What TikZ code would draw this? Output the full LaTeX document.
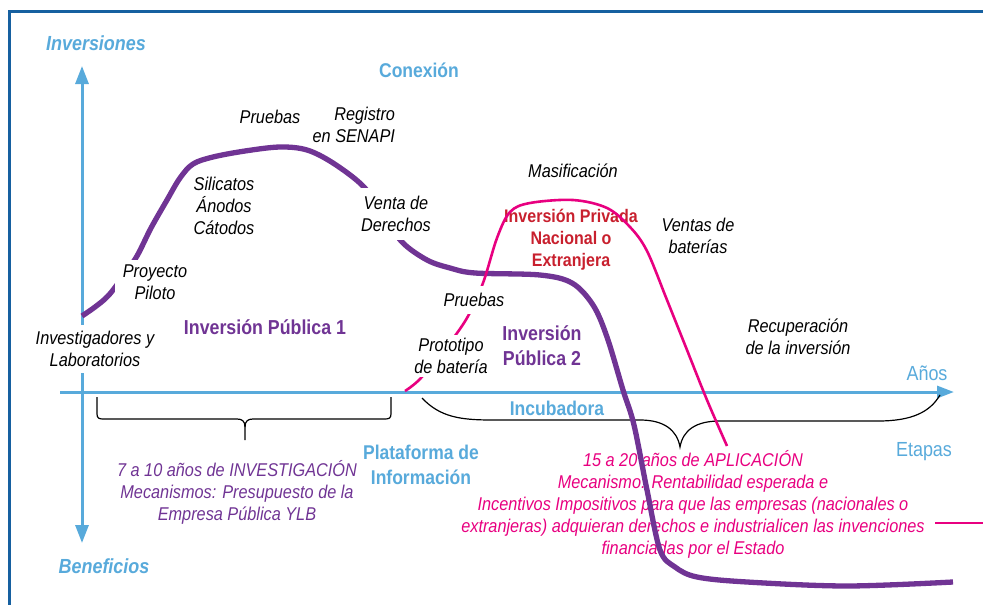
\documentclass[tikz,border=0pt]{standalone}
\usepackage{fontspec}
\setmainfont{Liberation Sans}[FakeStretch=0.88]
\usetikzlibrary{arrows.meta}
\definecolor{lblue}{RGB}{88,170,219}
\definecolor{frameblue}{RGB}{22,96,160}
\definecolor{ppurple}{RGB}{112,52,148}
\definecolor{pmag}{RGB}{232,0,128}
\definecolor{pred}{RGB}{200,32,46}
\begin{document}
\begin{tikzpicture}[x=1pt,y=-1pt,
  every node/.style={inner sep=0pt, outer sep=0pt},
  itx/.style={font=\fontsize{18.5}{22}\selectfont\itshape, align=center},
  bluebold/.style={font=\fontsize{19.9}{25}\selectfont\bfseries, text=lblue, align=center},
  blueital/.style={font=\fontsize{20.4}{22}\selectfont\bfseries\itshape, text=lblue},
  bluereg/.style={font=\fontsize{20.4}{22}\selectfont, text=lblue},
  purbold/.style={font=\fontsize{20.2}{25}\selectfont\bfseries, text=ppurple, align=center},
  redbold/.style={font=\fontsize{18.2}{22}\selectfont\bfseries, text=pred, align=center},
  cover/.style={fill=white},
  axisline/.style={lblue, line width=3pt},
  bracestyle/.style={black, line width=1.2pt},
  invcurve/.style={ppurple, line width=5.3pt},
  privcurve/.style={pmag, line width=2.6pt}]
\useasboundingbox (0,0) rectangle (983,605);

% frame
\coordinate (fbl) at (9.5,605);
\coordinate (ftl) at (9.5,11);
\coordinate (ftr) at (983,11);
\draw[frameblue, line width=3pt] (fbl) -- (ftl) -- (ftr);

% axes
\coordinate (vbot) at (82,543);
\coordinate (vtop) at (82,66);
\coordinate (hleft) at (60,392);
\coordinate (hright) at (954,392);
\draw[axisline, {Triangle[length=18pt,width=13pt]}-{Triangle[length=18pt,width=13pt]}] (vbot) -- (vtop);
\draw[axisline, -{Triangle[length=17pt,width=12pt]}] (hleft) -- (hright);

% braces
\coordinate (b1l) at (97,397);
\coordinate (b1tip) at (245,440);
\coordinate (b1r) at (391,397);
\draw[bracestyle] (b1l) -- (97,414) .. controls (97,418) and (99,419) .. (103,419) -- (237,419)
  .. controls (242,419) and (245,421) .. (245,427) -- (b1tip);
\draw[bracestyle] (b1r) -- (391,414) .. controls (391,418) and (389,419) .. (385,419) -- (253,419)
  .. controls (248,419) and (245,421) .. (245,427);
\coordinate (b2l) at (422,398);
\coordinate (b2tip) at (680,447);
\coordinate (b2r) at (940,395);
\draw[bracestyle] (b2l) .. controls (440,417) and (460,420) .. (492,420) -- (640,420)
  .. controls (664,420) and (677,430) .. (b2tip)
  .. controls (683,430) and (696,421) .. (720,421) -- (878,421)
  .. controls (912,421) and (930,412) .. (b2r);

% labels
\node[blueital] (inv) at (96,43) {Inversiones};
\node[blueital] (ben) at (104,566) {Beneficios};
\node[bluebold] (con) at (419,70) {Conexión};
\node[bluereg] (anos) at (927,373) {Años};
\node[bluereg] (etapas) at (924,452) {Etapas};
\node[bluebold] (incub) at (557,408) {Incubadora};
\node[bluebold] (plat) at (421,465) {Plataforma de\\Información};

\node[itx] (pru1) at (270,117) {Pruebas};
\node[itx, align=right, anchor=east] (reg) at (395,125) {Registro\\en SENAPI};
\node[itx] (sil) at (224,206) {Silicatos\\Ánodos\\Cátodos};
\node[purbold] (ip1) at (265,327) {Inversión Pública 1};
\node[purbold] (ip2) at (542,346) {Inversión\\Pública 2};
\node[itx] (masif) at (573,171) {Masificación};
\node[redbold] (ipriv) at (571,240) {Inversión Privada\\Nacional o\\Extranjera};
\node[itx] (ventas) at (698,236) {Ventas de\\baterías};
\node[itx] (recup) at (798,337) {Recuperación\\de la inversión};
\node[itx, text=ppurple] (inv7) at (237,492) {7 a 10 años de INVESTIGACIÓN\\Mecanismos: Presupuesto de la\\Empresa Pública YLB};
\node[itx, text=pmag] (apl) at (693,504) {15 a 20 años de APLICACIÓN\\Mecanismo: Rentabilidad esperada e\\Incentivos Impositivos para que las empresas (nacionales o\\extranjeras) adquieran derechos e industrialicen las invenciones\\financiadas por el Estado};

% public investment curve
\draw[invcurve] plot[smooth, tension=0.55] coordinates {
  (82,316) (95,307) (108,296) (122,278) (137,256) (151,228) (167,200) (180,178) (193,164)
  (213,157) (245,151) (280,147) (307,150) (333,163) (363,186) (383,214) (402,242)
  (427,260) (450,268) (475,273) (540,275) (572,283) (593,305) (607,337) (623,390)
  (634,425) (647,490) (660,550) (675,567) (697,577) (747,582) (847,586) (953,582)};

% private investment curve
\draw[privcurve] plot[smooth, tension=0.55] coordinates {
  (405,391) (420,379) (445,349) (467,318) (483,283) (497,238) (510,212) (530,203)
  (573,200) (607,208) (630,227) (647,251) (667,300) (687,350) (707,400) (727,446)};
\coordinate (pl) at (935,523);
\coordinate (pr) at (983,523);
\draw[privcurve] (pl) -- (pr);

% covering labels
\node[itx, cover, inner xsep=4pt, inner ysep=8pt] (venta) at (396,214) {Venta de\\Derechos};
\node[itx, cover, inner xsep=8pt, inner ysep=5pt] (proy) at (155,282) {Proyecto\\Piloto};
\node[itx, cover, inner xsep=2pt, inner ysep=6pt] (invlab) at (95,349) {Investigadores y\\Laboratorios};
\node[itx, cover, inner xsep=3pt, inner ysep=7pt] (pru2) at (474,300) {Pruebas};
\node[itx, cover, inner xsep=3pt, inner ysep=3pt] (proto) at (451,356) {Prototipo\\de batería};
\end{tikzpicture}
\end{document}
